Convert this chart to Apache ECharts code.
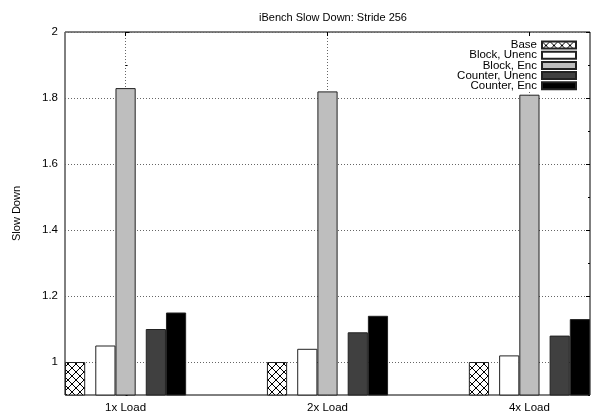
<!DOCTYPE html>
<html>
<head>
<meta charset="utf-8">
<script src="https://cdn.jsdelivr.net/npm/echarts@6/dist/echarts.min.js"></script>
<style>
  html, body { margin: 0; padding: 0; background: #fff; }
  #main { width: 591px; height: 415px; }
</style>
</head>
<body>
<div id="main"></div>
<script>
// data
const categories = ["1x Load", "2x Load", "4x Load"];
const base = [1.0, 1.0, 1.0];
const blockUnenc = [1.05, 1.04, 1.02];
const blockEnc = [1.83, 1.82, 1.81];
const counterUnenc = [1.1, 1.09, 1.08];
const counterEnc = [1.15, 1.14, 1.13];
const yTicks = [1, 1.2, 1.4, 1.6, 1.8, 2];
const xTicks = [0, 1, 2];

const font = "Liberation Sans";

// cross hatch fill for the Base bars
function hatch() {
  const c = document.createElement("canvas");
  c.width = 8;
  c.height = 8;
  const ctx = c.getContext("2d");
  ctx.fillStyle = "#fff";
  ctx.fillRect(0, 0, 8, 8);
  ctx.strokeStyle = "#000";
  ctx.lineWidth = 1;
  ctx.beginPath();
  ctx.moveTo(0, 0);
  ctx.lineTo(8, 8);
  ctx.moveTo(8, 0);
  ctx.lineTo(0, 8);
  ctx.stroke();
  return { image: c, repeat: "repeat" };
}

function toPoints(arr) {
  return arr.map((v, i) => [i, v]);
}

function bar(name, values, color) {
  return {
    name: name,
    type: "bar",
    barWidth: "10%",
    barGap: 0,
    data: toPoints(values),
    itemStyle: { color: color, borderColor: "#222", borderWidth: 1 },
    emphasis: { disabled: true },
  };
}

// empty half-width slot to leave the gaps inside a cluster
function spacer(id) {
  return {
    name: id,
    type: "bar",
    barWidth: "5%",
    barGap: 0,
    data: [],
  };
}

const chart = echarts.init(document.getElementById("main"), null, { renderer: "canvas" });

const dotted = { color: "#666", width: 1, type: [1, 2] };

const yCommon = {
  type: "value",
  min: 0.9,
  max: 2,
  interval: 0.1,
};

const option = {
  animation: false,
  textStyle: { fontFamily: font },
  title: {
    text: "iBench Slow Down: Stride 256",
    left: 328,
    textAlign: "center",
    top: 7,
    textStyle: { fontFamily: font, fontSize: 11, fontWeight: "normal", color: "#000" },
  },
  legend: {
    data: ["Base", "Block, Unenc", "Block, Enc", "Counter, Unenc", "Counter, Enc"],
    orient: "vertical",
    right: 14,
    top: 38,
    align: "right",
    icon: "rect",
    itemWidth: 34,
    itemHeight: 7,
    itemGap: -1.8,
    padding: [1, 0, 0, 6],
    backgroundColor: "#fff",
    selectedMode: false,
    textStyle: { fontFamily: font, fontSize: 11.5, color: "#000", lineHeight: 9 },
  },
  grid: {
    left: 65,
    right: 1,
    top: 32,
    bottom: 20,
    show: true,
    borderColor: "#000",
    borderWidth: 1,
    backgroundColor: "transparent",
  },
  xAxis: [
    {
      type: "value",
      min: -0.3,
      max: 2.3,
      axisLine: { show: false },
      axisTick: { show: true, inside: true, length: 4, customValues: xTicks, lineStyle: { color: "#000" } },
      axisLabel: {
        customValues: xTicks,
        formatter: (v) => categories[Math.round(v)],
        margin: 7,
        fontSize: 11.5,
        color: "#000",
        fontFamily: font,
      },
      splitLine: { show: true, lineStyle: dotted },
    },
    {
      type: "value",
      position: "top",
      min: -0.3,
      max: 2.3,
      axisLine: { show: false },
      axisTick: { show: true, inside: true, length: 4, customValues: xTicks, lineStyle: { color: "#000" } },
      axisLabel: { show: false },
      splitLine: { show: false },
    },
  ],
  yAxis: [
    Object.assign({}, yCommon, {
      position: "left",
      name: "Slow Down",
      nameLocation: "middle",
      nameRotate: 90,
      nameGap: 43,
      nameTextStyle: { fontFamily: font, fontSize: 11, color: "#000" },
      axisLine: { show: false },
      axisTick: { show: true, inside: true, length: 4, customValues: yTicks, lineStyle: { color: "#000" } },
      axisLabel: { customValues: yTicks, margin: 7, fontSize: 11.5, color: "#000", fontFamily: font },
      splitLine: { show: true, lineStyle: dotted },
    }),
    Object.assign({}, yCommon, {
      position: "left",
      axisLine: { show: false },
      axisTick: { show: true, inside: true, length: 2, lineStyle: { color: "#000" } },
      axisLabel: { show: false },
      splitLine: { show: false },
    }),
    Object.assign({}, yCommon, {
      position: "right",
      axisLine: { show: false },
      axisTick: { show: true, inside: true, length: 4, customValues: yTicks, lineStyle: { color: "#000" } },
      axisLabel: { show: false },
      splitLine: { show: false },
    }),
    Object.assign({}, yCommon, {
      position: "right",
      axisLine: { show: false },
      axisTick: { show: true, inside: true, length: 2, lineStyle: { color: "#000" } },
      axisLabel: { show: false },
      splitLine: { show: false },
    }),
  ],
  series: [
    bar("Base", base, hatch()),
    spacer("gap1"),
    bar("Block, Unenc", blockUnenc, "#ffffff"),
    bar("Block, Enc", blockEnc, "#bebebe"),
    spacer("gap2"),
    bar("Counter, Unenc", counterUnenc, "#404040"),
    bar("Counter, Enc", counterEnc, "#000000"),
  ],
};

chart.setOption(option);
</script>
</body>
</html>
